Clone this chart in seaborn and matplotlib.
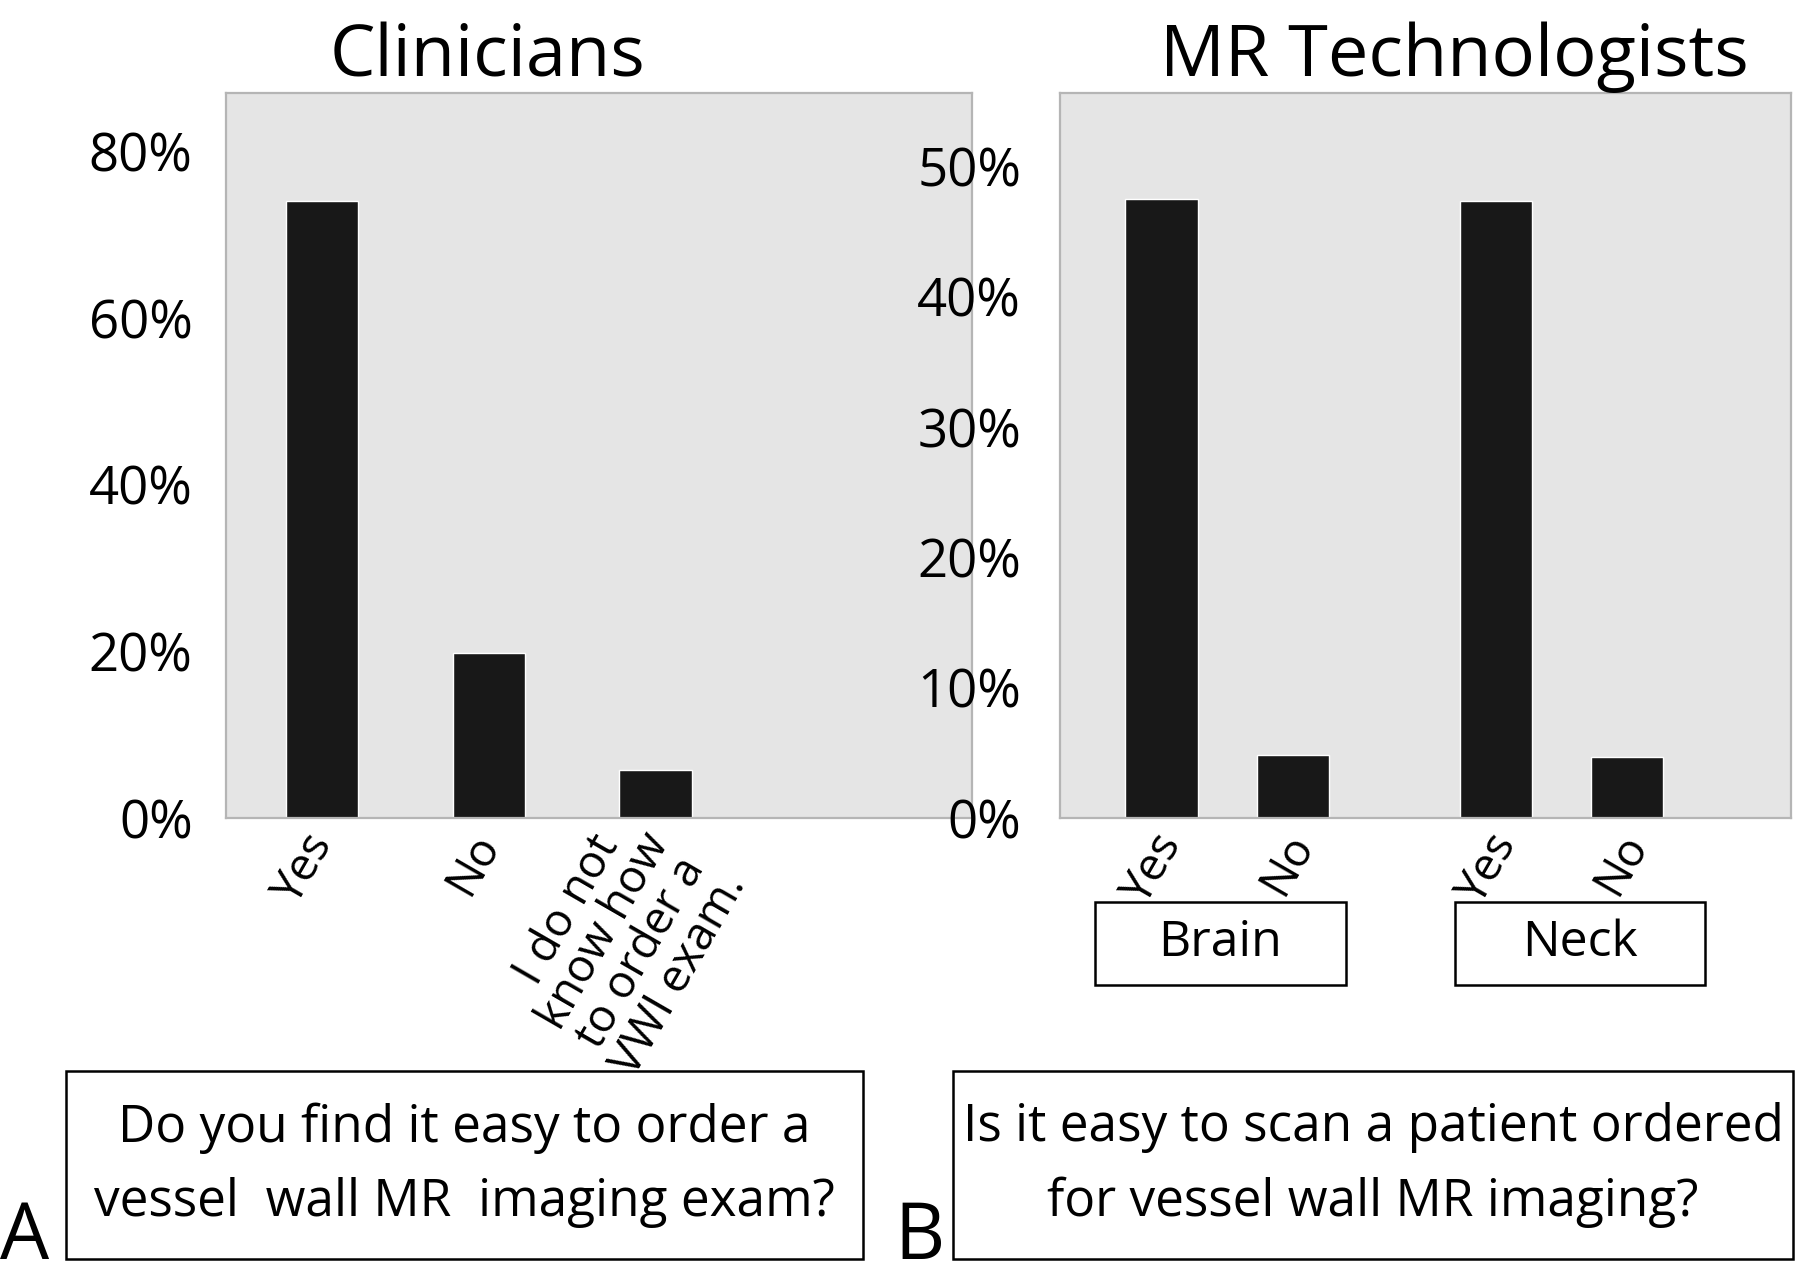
import matplotlib
matplotlib.use("Agg")
import matplotlib.pyplot as plt
import seaborn as sns
import pandas as pd
from matplotlib.patches import Rectangle
from matplotlib.ticker import FuncFormatter
from matplotlib.transforms import ScaledTranslation

# ---------------- data ----------------
clin_answers = ["Yes", "No", "I do not\nknow how\nto order a\nVWI exam."]
clin_pct = [74.0, 19.8, 5.8]
clin_yticks = [0, 20, 40, 60, 80]

tech_region = ["Brain", "Brain", "Neck", "Neck"]
tech_answer = ["Yes", "No", "Yes", "No"]
tech_pct = [47.5, 4.8, 47.3, 4.7]
tech_yticks = [0, 10, 20, 30, 40, 50]

titles = ["Clinicians", "MR Technologists"]
questions = ["Do you find it easy to order a\nvessel  wall MR  imaging exam?",
             "Is it easy to scan a patient ordered\nfor vessel wall MR imaging?"]
panel_letters = ["A", "B"]

# ---------------- style ----------------
sns.set_style("white")
plt.rcParams["font.family"] = ["Open Sans", "DejaVu Sans"]
plt.rcParams["text.color"] = "black"
plt.rcParams["xtick.color"] = "black"
plt.rcParams["ytick.color"] = "black"
plt.rcParams["axes.labelcolor"] = "black"
plt.rcParams["axes.titlecolor"] = "black"

BAR = "#181818"
FACE = "#e5e5e5"
SPINE = "#b5b5b5"

fig = plt.figure(figsize=(18, 12.79), dpi=100)
ax1 = fig.add_axes([0.1256, 0.3604, 0.4144, 0.5669])
ax2 = fig.add_axes([0.5889, 0.3604, 0.4061, 0.5669])

# left panel
df1 = pd.DataFrame({"answer": clin_answers, "pct": clin_pct})
sns.barplot(data=df1, x="answer", y="pct", color=BAR, saturation=1,
            width=0.434, ax=ax1)
ax1.set_xlim(-0.576, 3.90)
ax1.set_ylim(0, 87)
ax1.set_yticks(clin_yticks)
ax1.set_xticks(range(len(clin_answers)), clin_answers, rotation=60,
               ha="right", va="center", rotation_mode="anchor")

# right panel
df2 = pd.DataFrame({"region": tech_region, "answer": tech_answer, "pct": tech_pct})
hue_levels = list(dict.fromkeys(tech_answer))
sns.barplot(data=df2, x="region", y="pct", hue="answer", hue_order=hue_levels,
            palette=[BAR] * len(hue_levels), saturation=1, width=0.784,
            gap=0.448, legend=False, ax=ax2)
ax2.set_xlim(-0.5, 1.686)
ax2.set_ylim(0, 55.6)
ax2.set_yticks(tech_yticks)
ticks, labels = [], []
for cont, level in zip(ax2.containers, hue_levels):
    for bar in cont:
        ticks.append(bar.get_x() + bar.get_width() / 2)
        labels.append(level)
order = sorted(range(len(ticks)), key=lambda i: ticks[i])
ax2.set_xticks([ticks[i] for i in order], [labels[i] for i in order],
               rotation=60, ha="right", va="center", rotation_mode="anchor")

pct_fmt = FuncFormatter(lambda v, p: f"{int(round(v))}%")
for ax, title, tx, ypad in [(ax1, titles[0], 0.351, 24), (ax2, titles[1], 0.539, 28)]:
    ax.set_facecolor(FACE)
    for s in ax.spines.values():
        s.set_visible(True)
        s.set_color(SPINE)
        s.set_linewidth(1.6)
    ax.set_xlabel("")
    ax.set_ylabel("")
    ax.yaxis.set_major_formatter(pct_fmt)
    ax.tick_params(axis="y", length=0, labelsize=38, pad=ypad)
    ax.tick_params(axis="x", length=0, labelsize=33, pad=14)
    ax.set_title(title, x=tx, fontsize=52, pad=12)

# nudge the right-panel answer labels slightly right
for lab in ax2.get_xticklabels():
    lab.set_transform(lab.get_transform() +
                      ScaledTranslation(0.1, 0.0, fig.dpi_scale_trans))

# multi-line answer label: tighter lines, nudged right like the reference
long_lab = ax1.get_xticklabels()[2]
long_lab.set_multialignment("center")
long_lab.set_linespacing(0.92)
long_lab.set_transform(long_lab.get_transform() +
                       ScaledTranslation(0.24, -0.08, fig.dpi_scale_trans))

# region boxes under the technologist bars
regions = list(dict.fromkeys(tech_region))
for i, reg in enumerate(regions):
    cx = i + (-0.02 if i == 0 else 0.055)
    ax2.add_patch(Rectangle((cx - 0.375, -0.2303), 0.75, 0.1145,
                            transform=ax2.get_xaxis_transform(), clip_on=False,
                            facecolor="white", edgecolor="black", linewidth=1.8))
    ax2.text(cx, -0.173, reg, transform=ax2.get_xaxis_transform(),
             ha="center", va="center", fontsize=36)

# question boxes
boxes = [(0.0367, 0.4428), (0.5294, 0.4667)]
for (x0, w), q in zip(boxes, questions):
    fig.patches.append(Rectangle((x0, 0.0156), w, 0.147, transform=fig.transFigure,
                                 facecolor="white", edgecolor="black", linewidth=1.8))
    fig.text(x0 + w / 2, 0.0156 + 0.147 / 2, q, ha="center", va="center",
             fontsize=37, linespacing=1.6)

for x, letter in zip([0.0, 0.497], panel_letters):
    fig.text(x, 0.001, letter, ha="left", va="bottom", fontsize=56)

fig.savefig("out.png", dpi=100, facecolor="white")
